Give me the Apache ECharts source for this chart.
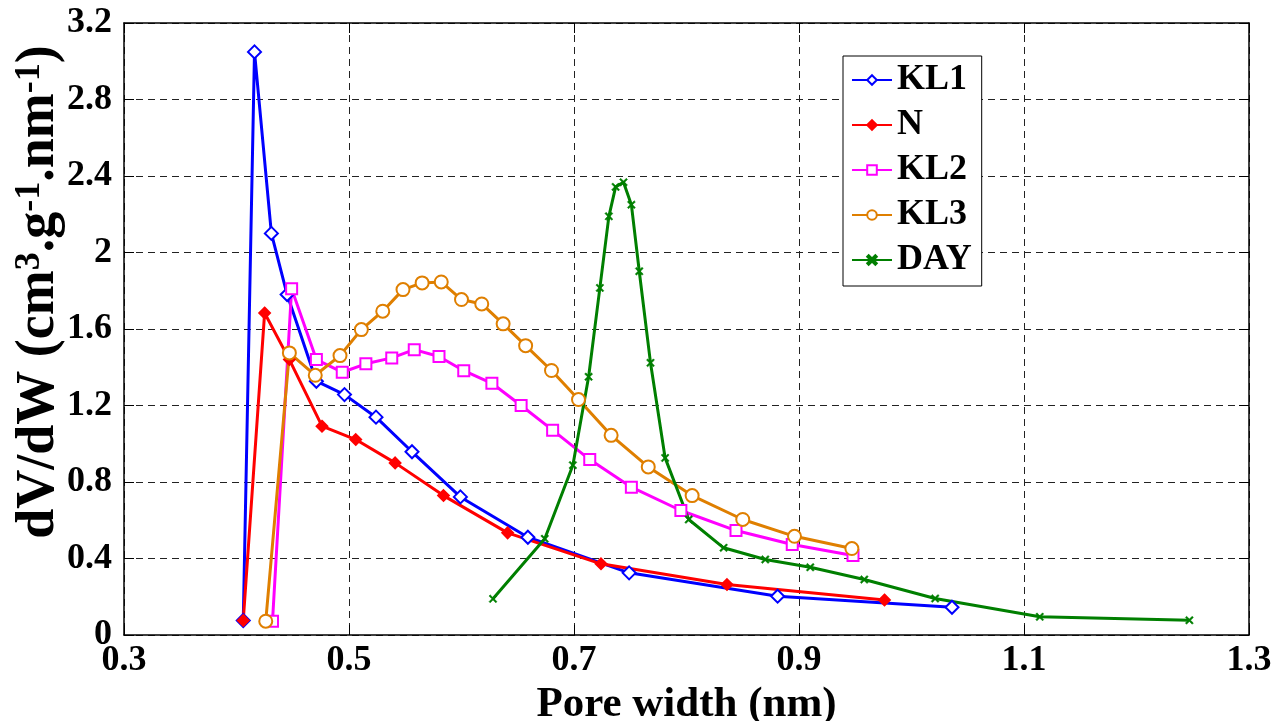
<!DOCTYPE html>
<html>
<head>
<meta charset="utf-8">
<script src="https://cdn.jsdelivr.net/npm/echarts@6/dist/echarts.min.js"></script>
<style>
html,body{margin:0;padding:0;background:#fff;}
#chart{width:1283px;height:721px;}
</style>
</head>
<body>
<div id="chart"></div>
<script>
// ---- data (pore width nm, dV/dW) ----
const kl1X = [0.406, 0.416, 0.431, 0.445, 0.471, 0.496, 0.524, 0.556, 0.599, 0.659, 0.749, 0.881, 1.036];
const kl1Y = [0.076, 3.049, 2.100, 1.780, 1.327, 1.257, 1.139, 0.958, 0.722, 0.511, 0.325, 0.203, 0.145];

const nX = [0.406, 0.425, 0.447, 0.476, 0.506, 0.541, 0.584, 0.641, 0.724, 0.836, 0.976];
const nY = [0.076, 1.684, 1.440, 1.092, 1.022, 0.900, 0.729, 0.534, 0.372, 0.264, 0.183];

const kl2X = [0.432, 0.449, 0.471, 0.494, 0.515, 0.538, 0.558, 0.580, 0.602, 0.627, 0.653, 0.681, 0.714, 0.751, 0.795, 0.844, 0.894, 0.948];
const kl2Y = [0.072, 1.811, 1.440, 1.374, 1.418, 1.449, 1.492, 1.456, 1.382, 1.316, 1.200, 1.071, 0.917, 0.773, 0.651, 0.546, 0.473, 0.416];

const kl3X = [0.426, 0.447, 0.470, 0.492, 0.511, 0.530, 0.548, 0.565, 0.582, 0.600, 0.618, 0.637, 0.657, 0.680, 0.704, 0.733, 0.766, 0.805, 0.850, 0.896, 0.947];
const kl3Y = [0.072, 1.475, 1.358, 1.461, 1.597, 1.693, 1.806, 1.841, 1.846, 1.754, 1.731, 1.627, 1.513, 1.383, 1.231, 1.044, 0.879, 0.729, 0.604, 0.516, 0.452];

const dayX = [0.628, 0.674, 0.699, 0.713, 0.723, 0.731, 0.737, 0.744, 0.751, 0.758, 0.768, 0.781, 0.802, 0.833, 0.870, 0.910, 0.958, 1.021, 1.114, 1.247];
const dayY = [0.189, 0.503, 0.888, 1.350, 1.815, 2.189, 2.343, 2.367, 2.250, 1.902, 1.423, 0.926, 0.604, 0.456, 0.395, 0.354, 0.290, 0.191, 0.095, 0.077];

const seriesNames = ['KL1', 'N', 'KL2', 'KL3', 'DAY'];
const xTicks = [0.3, 0.5, 0.7, 0.9, 1.1, 1.3];
const yTicks = [0, 0.4, 0.8, 1.2, 1.6, 2, 2.4, 2.8, 3.2];

// ---- chart ----
const FONT = "'Liberation Serif', 'Times New Roman', serif";
const pairs = (xs, ys) => xs.map((x, i) => [x, ys[i]]);
const X_SYM = 'path://M0,1.5L1.5,0L5,3.5L8.5,0L10,1.5L6.5,5L10,8.5L8.5,10L5,6.5L1.5,10L0,8.5L3.5,5Z';

const chart = echarts.init(document.getElementById('chart'), null, {renderer: 'canvas'});

const gridLine = {show: true, lineStyle: {color: '#222', width: 1, type: [7, 5]}};
const axisLine = {show: true, onZero: false, lineStyle: {color: '#000', width: 1.5}};
const tick = {show: true, inside: true, length: 10, lineStyle: {color: '#000', width: 1}};

function mk(name, xs, ys, color, symbol, size, extra) {
  return Object.assign({
    name: name, type: 'line', data: pairs(xs, ys),
    symbol: symbol, symbolSize: size, showAllSymbol: true,
    lineStyle: {color: color, width: 3},
    itemStyle: {color: color, borderColor: color, borderWidth: 2.5},
    emphasis: {disabled: true}, animation: false, z: 3
  }, extra || {});
}

chart.setOption({
  animation: false,
  backgroundColor: '#fff',
  grid: {left: 124, right: 34, top: 23, bottom: 86, containLabel: false, outerBoundsMode: 'none'},
  legend: {
    orient: 'vertical', left: 843, top: 56,
    padding: [6, 10, 8, 8], itemGap: 9, itemWidth: 40, itemHeight: 12,
    backgroundColor: '#fff', borderColor: '#000', borderWidth: 1, borderRadius: 0,
    data: seriesNames,
    textStyle: {fontFamily: FONT, fontWeight: 'bold', fontSize: 36, color: '#000', lineHeight: 36}
  },
  xAxis: [{
    type: 'value', min: xTicks[0], max: xTicks[xTicks.length - 1], interval: 0.2,
    axisLine: axisLine, axisTick: tick, splitLine: gridLine,
    axisLabel: {fontFamily: FONT, fontWeight: 'bold', fontSize: 36, color: '#000', margin: 8,
      formatter: v => String(+v.toFixed(1))},
    name: 'Pore width (nm)', nameLocation: 'middle', nameGap: 48, nameMoveOverlap: false,
    nameTextStyle: {fontFamily: FONT, fontWeight: 'bold', fontSize: 43, color: '#000'}
  }, {
    type: 'value', position: 'top', min: xTicks[0], max: xTicks[xTicks.length - 1], interval: 0.2,
    axisLine: axisLine, axisTick: tick, splitLine: {show: false}, axisLabel: {show: false}
  }],
  yAxis: [{
    type: 'value', min: yTicks[0], max: yTicks[yTicks.length - 1], interval: 0.4,
    axisLine: axisLine, axisTick: tick, splitLine: gridLine,
    axisLabel: {fontFamily: FONT, fontWeight: 'bold', fontSize: 36, color: '#000', margin: 12,
      formatter: v => String(+v.toFixed(1))},
    name: '{t|dV/dW (cm}{s|3}{t|.g}{s|-1}{t|.nm}{s|-1}{t|)}',
    nameLocation: 'middle', nameGap: 58, nameRotate: 90, nameMoveOverlap: false,
    nameTextStyle: {
      padding: [0, 0, 0, 74],
      rich: {
        t: {fontFamily: FONT, fontWeight: 'bold', fontSize: 54, color: '#000', lineHeight: 54, verticalAlign: 'bottom'},
        s: {fontFamily: FONT, fontWeight: 'bold', fontSize: 36, color: '#000', lineHeight: 36, verticalAlign: 'top', padding: [0, 0, 22, 0]}
      }
    }
  }, {
    type: 'value', position: 'right', min: yTicks[0], max: yTicks[yTicks.length - 1], interval: 0.4,
    axisLine: axisLine, axisTick: tick, splitLine: {show: false}, axisLabel: {show: false}
  }],
  series: [
    mk('KL1', kl1X, kl1Y, '#0000ff', 'emptyDiamond', 13),
    mk('N', nX, nY, '#ff0000', 'diamond', 10),
    mk('KL2', kl2X, kl2Y, '#ff00ff', 'emptyRect', 11),
    mk('KL3', kl3X, kl3Y, '#df7f00', 'emptyCircle', 13),
    mk('DAY', dayX, dayY, '#007f00', X_SYM, 8, {itemStyle: {color: '#007f00', borderColor: '#007f00', borderWidth: 0.5}})
  ]
});
</script>
</body>
</html>
